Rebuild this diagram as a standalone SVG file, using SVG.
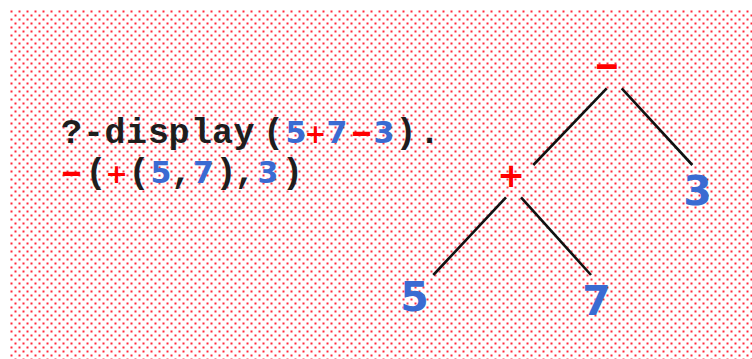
<svg xmlns="http://www.w3.org/2000/svg" width="752" height="359" viewBox="0 0 752 359">
<defs>
<pattern id="dots" x="10" y="10" width="8" height="8" patternUnits="userSpaceOnUse">
<rect x="0.5" y="0.5" width="2" height="2" fill="#ff2a3c"/>
<rect x="4.5" y="4.5" width="2" height="2" fill="#ff2a3c"/>
</pattern>
<style>
.mono{font-family:"Liberation Mono","Courier New",monospace;font-weight:bold;font-size:35px;fill:#1e1e1e;text-anchor:middle}
.num{font-family:"DejaVu Sans",Verdana,sans-serif;font-weight:bold;fill:#3a6bd2;text-anchor:middle}
.op{font-family:"DejaVu Sans",Verdana,sans-serif;font-weight:bold;fill:#ff0000;text-anchor:middle}
.edge{stroke:#111;stroke-width:2.6;fill:none}
</style>
</defs>
<rect x="0" y="0" width="752" height="359" fill="#ffffff"/>
<rect x="10" y="10" width="742" height="349" fill="url(#dots)"/>

<g id="query">
<text class="mono" x="71.5 93.5 115 136.5 158.5 179 201.5 222.5 244 273.5" y="143">?-display(</text>
<text class="num" x="296" y="143" font-size="30">5</text>
<text class="op" x="315.5" y="143" font-size="26">+</text>
<text class="num" x="337" y="143" font-size="30">7</text>
<text class="op" transform="translate(361.5,143) scale(1.8,1)" x="0" y="0" font-size="31">-</text>
<text class="num" x="384" y="143" font-size="30">3</text>
<text class="mono" x="406 429.5" y="143">).</text>
</g>

<g id="result">
<text class="op" transform="translate(71.5,183) scale(1.8,1)" x="0" y="0" font-size="31">-</text>
<text class="mono" x="96" y="183">(</text>
<text class="op" x="116.5" y="183" font-size="27">+</text>
<text class="mono" x="139" y="183">(</text>
<text class="num" x="161" y="183" font-size="30">5</text>
<text class="mono" x="181.5" y="183">,</text>
<text class="num" x="203.5" y="183" font-size="30">7</text>
<text class="mono" x="226 245" y="183">),</text>
<text class="num" x="268" y="183" font-size="30">3</text>
<text class="mono" x="292.5" y="183">)</text>
</g>

<g id="connectors">
<line class="edge" x1="606.7" y1="88.3" x2="533.3" y2="165"/>
<line class="edge" x1="621.7" y1="88.3" x2="692.3" y2="165"/>
<line class="edge" x1="506" y1="197.3" x2="433.3" y2="275"/>
<line class="edge" x1="521" y1="197.3" x2="591" y2="275"/>
</g>

<g id="node-minus">
<text class="op" transform="translate(607,76) scale(1.9,1)" x="0" y="0" font-size="34">-</text>
</g>
<g id="node-plus">
<text class="op" x="511" y="187" font-size="33">+</text>
</g>
<g id="node-3">
<text class="num" x="697.5" y="205" font-size="41">3</text>
</g>
<g id="node-5">
<text class="num" x="414.5" y="311" font-size="41">5</text>
</g>
<g id="node-7">
<text class="num" x="596.5" y="315" font-size="41">7</text>
</g>
</svg>
